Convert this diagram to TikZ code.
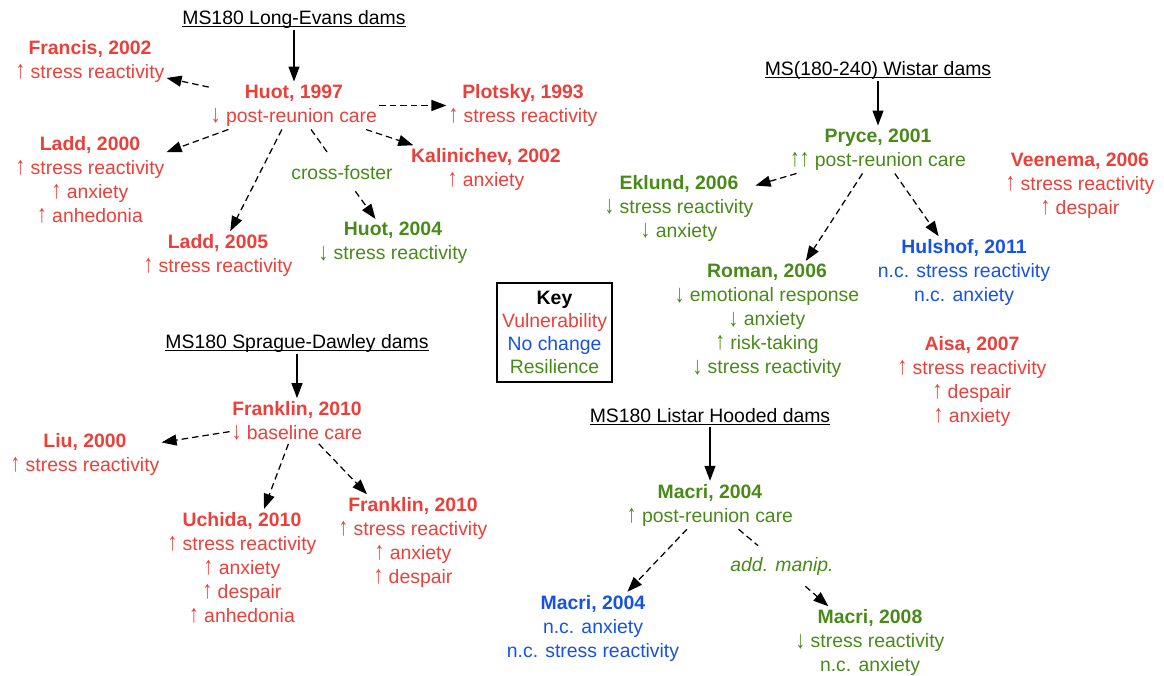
\documentclass[tikz,border=0pt]{standalone}
\usepackage{fontspec}
\usepackage{graphicx}
\setmainfont{Liberation Sans}
\usetikzlibrary{arrows.meta}
\definecolor{vred}{RGB}{235,64,58}
\definecolor{ncblue}{RGB}{22,82,230}
\definecolor{resgreen}{RGB}{72,138,24}
\newcommand\myul[1]{\setbox0\hbox{#1}\rlap{\rule[-2.4pt]{\wd0}{0.9pt}}\box0}
\newcommand\uparr{\scalebox{1}[1.3]{↑}}
\newcommand\dnarr{\raisebox{-0.5pt}{\scalebox{1}[1.3]{↓}}}
\begin{document}
\begin{tikzpicture}[x=1pt,y=-1pt,
  every node/.style={font=\fontsize{19.4}{24}\selectfont},
  txt/.style={align=center, inner xsep=2pt, inner ysep=3pt},
  vul/.style={txt, text=vred},
  nc/.style={txt, text=ncblue},
  res/.style={txt, text=resgreen},
  lbl/.style={inner xsep=2pt, inner ysep=11pt, text=resgreen},
  ttl/.style={inner sep=2pt},
  darr/.style={line width=1.25pt, dash pattern=on 6.5pt off 4pt, -{Triangle[length=15pt,width=11pt]}},
  dline/.style={line width=1.25pt, dash pattern=on 6.5pt off 4pt},
  sarr/.style={line width=1.25pt, -{Triangle[length=15pt,width=11pt]}}
]
\useasboundingbox (0,0) rectangle (1164,676);

% Long-Evans
\node[ttl] (le) at (294,19) {\myul{MS180 Long-Evans dams}};
\node[vul] (huot97) at (294,105.5) {\textbf{Huot, 1997}\\\dnarr\ post-reunion care};
\node[vul] (francis) at (90,61.5) {\textbf{Francis, 2002}\\\uparr\ stress reactivity};
\node[vul] (plotsky) at (523,105.5) {\textbf{Plotsky, 1993}\\\uparr\ stress reactivity};
\node[vul] (ladd00) at (90,180) {\textbf{Ladd, 2000}\\\uparr\ stress reactivity\\\uparr\ anxiety\\\uparr\ anhedonia};
\node[vul] (kal) at (486,169.5) {\textbf{Kalinichev, 2002}\\\uparr\ anxiety};
\node[lbl] (cf) at (342,173) {cross-foster};
\node[vul] (ladd05) at (218,255.5) {\textbf{Ladd, 2005}\\\uparr\ stress reactivity};
\node[res] (huot04) at (393,243) {\textbf{Huot, 2004}\\\dnarr\ stress reactivity};

\draw[sarr] (le) -- (huot97);
\draw[darr] (huot97) -- (francis);
\draw[darr] (huot97) -- (plotsky);
\draw[darr] (huot97) -- (ladd00);
\draw[darr] (huot97) -- (kal);
\draw[darr] (huot97) -- (ladd05);
\draw[dline] (huot97) -- (cf);
\draw[darr] (cf) -- (huot04);

% Wistar
\node[ttl] (wt) at (878,70) {\myul{MS(180-240) Wistar dams}};
\node[res] (pryce) at (878,149.5) {\textbf{Pryce, 2001}\\\uparr\uparr\ post-reunion care};
\node[res] (eklund) at (679,208) {\textbf{Eklund, 2006}\\\dnarr\ stress reactivity\\\dnarr\ anxiety};
\node[vul] (veenema) at (1080,186) {\textbf{Veenema, 2006}\\\uparr\ stress reactivity\\\uparr\ despair};
\node[res] (roman) at (767,321) {\textbf{Roman, 2006}\\\dnarr\ emotional response\\\dnarr\ anxiety\\\uparr\ risk-taking\\\dnarr\ stress reactivity};
\node[nc] (hulshof) at (964,272.5) {\textbf{Hulshof, 2011}\\n.c. stress reactivity\\n.c. anxiety};
\node[vul] (aisa) at (972,381) {\textbf{Aisa, 2007}\\\uparr\ stress reactivity\\\uparr\ despair\\\uparr\ anxiety};

\draw[sarr] (wt) -- (pryce);
\draw[darr] (pryce) -- (eklund);
\draw[darr] (pryce) -- (roman);
\draw[darr] (pryce) -- (hulshof);

% Key
\node[draw, line width=1.25pt, minimum width=115pt, minimum height=99pt, inner sep=0pt, align=center, font=\fontsize{19.4}{23}\selectfont] (key) at (554.5,332.5)
  {\textbf{Key}\\\textcolor{vred}{Vulnerability}\\\textcolor{ncblue}{No change}\\\textcolor{resgreen}{Resilience}};

% Sprague-Dawley
\node[ttl] (sd) at (297,343) {\myul{MS180 Sprague-Dawley dams}};
\node[vul] (frank) at (297,421) {\textbf{Franklin, 2010}\\\dnarr\ baseline care};
\node[vul] (liu) at (85,454.5) {\textbf{Liu, 2000}\\\uparr\ stress reactivity};
\node[vul] (uchida) at (242,567.5) {\textbf{Uchida, 2010}\\\uparr\ stress reactivity\\\uparr\ anxiety\\\uparr\ despair\\\uparr\ anhedonia};
\node[vul] (frank2) at (413,542.5) {\textbf{Franklin, 2010}\\\uparr\ stress reactivity\\\uparr\ anxiety\\\uparr\ despair};

\draw[sarr] (sd) -- (frank);
\draw[darr] (frank) -- (liu);
\draw[darr] (frank) -- (uchida);
\draw[darr] (frank) -- (frank2);

% Listar Hooded
\node[ttl] (lh) at (710,417) {\myul{MS180 Listar Hooded dams}};
\node[res] (macri) at (710,505) {\textbf{Macri, 2004}\\\uparr\ post-reunion care};
\node[lbl] (am) at (782,566) {\itshape add. manip.};
\node[nc] (macrib) at (593,628) {\textbf{Macri, 2004}\\n.c. anxiety\\n.c. stress reactivity};
\node[res] (macri08) at (870,642.5) {\textbf{Macri, 2008}\\\dnarr\ stress reactivity\\n.c. anxiety};

\draw[sarr] (lh) -- (macri);
\draw[darr] (macri) -- (macrib);
\draw[dline] (macri) -- (am);
\draw[darr] (am) -- (macri08);
\end{tikzpicture}
\end{document}
